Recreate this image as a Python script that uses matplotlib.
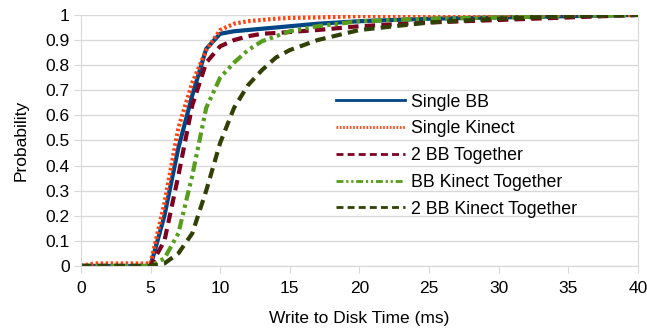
import matplotlib.pyplot as plt

plt.rcParams['font.family'] = ['Liberation Sans', 'DejaVu Sans']

# write-to-disk time (ms)
x = [0, 1, 2, 3, 4, 5, 6, 7, 8, 9, 10, 11, 12, 13, 14, 15, 17, 20, 25, 30, 35, 40]

single_bb = [0, 0, 0, 0, 0, 0, 0.20, 0.47, 0.68, 0.865, 0.925, 0.935, 0.94, 0.945,
             0.95, 0.955, 0.965, 0.975, 0.985, 0.99, 0.995, 1.0]
single_kinect = [0, 0.01, 0.01, 0.01, 0.01, 0.01, 0.25, 0.55, 0.73, 0.86, 0.94, 0.965,
                 0.975, 0.98, 0.985, 0.988, 0.99, 0.995, 0.998, 1.0, 1.0, 1.0]
bb2_together = [0, 0, 0, 0, 0, 0, 0.10, 0.36, 0.64, 0.81, 0.875, 0.90, 0.915, 0.925,
                0.928, 0.932, 0.94, 0.955, 0.97, 0.98, 0.99, 1.0]
bb_kinect_together = [0, 0, 0, 0, 0, 0, 0.03, 0.13, 0.36, 0.63, 0.75, 0.81, 0.86, 0.895,
                      0.915, 0.935, 0.955, 0.975, 0.985, 0.99, 0.995, 1.0]
bb2_kinect_together = [0, 0, 0, 0, 0, 0, 0.01, 0.05, 0.13, 0.30, 0.49, 0.63, 0.72, 0.78,
                       0.83, 0.86, 0.90, 0.94, 0.97, 0.985, 0.995, 1.0]

series = [
    ('Single BB', single_bb, '#004586', '-'),
    ('Single Kinect', single_kinect, '#ff420e', (0, (0.6, 0.6))),
    ('2 BB Together', bb2_together, '#7e0021', (0, (2.5, 1.5))),
    ('BB Kinect Together', bb_kinect_together, '#579d1c', (0, (2.5, 1, 0.8, 1, 0.8, 1))),
    ('2 BB Kinect Together', bb2_kinect_together, '#314004', (0, (2.5, 1.5))),
]

fig = plt.figure(figsize=(6.47, 3.32), dpi=100)
ax = fig.add_axes([0.125, 0.199, 0.861, 0.756])

for label, y, color, ls in series:
    ax.plot(x, y, color=color, linestyle=ls, linewidth=3, label=label)

ax.set_xlim(0, 40)
ax.set_ylim(0, 1)
ax.set_xticks(range(0, 41, 5))
ax.set_yticks([i / 10 for i in range(11)])
ax.set_yticklabels(['0', '0.1', '0.2', '0.3', '0.4', '0.5', '0.6', '0.7', '0.8', '0.9', '1'])
ax.grid(axis='y', color='#d9d9d9', linewidth=1)
ax.set_axisbelow(True)
for side in ['left', 'right', 'bottom']:
    ax.spines[side].set_color('#d9d9d9')
ax.spines['top'].set_visible(False)
ax.tick_params(axis='both', labelsize=12.5, colors='#d9d9d9', labelcolor='black',
               length=5, direction='out')
ax.tick_params(axis='y', pad=3)
ax.tick_params(axis='x', pad=6)

ax.set_xlabel('Write to Disk Time (ms)', fontsize=12.5, labelpad=11)
ax.set_ylabel('Probability', fontsize=12.5, labelpad=12)

leg = ax.legend(loc='upper left', bbox_to_anchor=(0.445, 0.715), frameon=False,
                fontsize=12.8, handlelength=3.9, handletextpad=0.3, labelspacing=0.55,
                borderaxespad=0)
for line in leg.get_lines():
    line.set_linewidth(2)

fig.savefig('out.png', dpi=100)
